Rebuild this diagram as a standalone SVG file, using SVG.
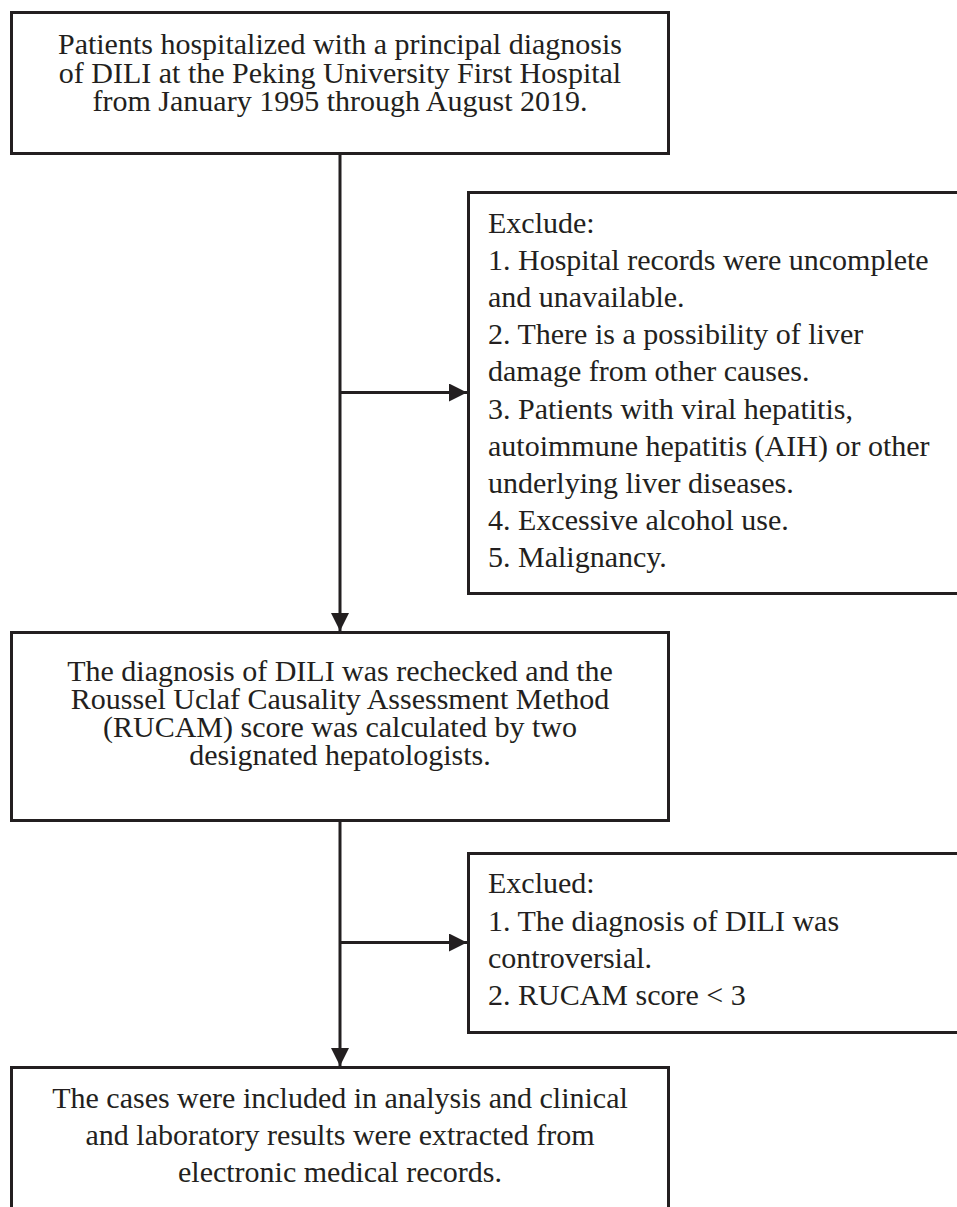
<svg xmlns="http://www.w3.org/2000/svg" width="957" height="1207" viewBox="0 0 957 1207">
<style>
.box{fill:#fff;stroke:#231f20;stroke-width:3}
.t{font-family:"Liberation Serif","Times New Roman",serif;font-size:30px;fill:#231f20}
.c{text-anchor:middle}
.conn{stroke:#231f20;stroke-width:3;fill:none}
</style>
<defs>
<marker id="ah" viewBox="0 0 18 18" refX="18" refY="9" markerWidth="18" markerHeight="18" markerUnits="userSpaceOnUse" orient="auto">
<path d="M0,0 L18,9 L0,18 Z" fill="#231f20"/>
</marker>
</defs>
<rect width="957" height="1207" fill="#fff"/>
<g id="connectors">
<line class="conn" x1="340" y1="153" x2="340" y2="631" marker-end="url(#ah)"/>
<line class="conn" x1="340" y1="392.5" x2="467" y2="392.5" marker-end="url(#ah)"/>
<line class="conn" x1="340" y1="820" x2="340" y2="1066" marker-end="url(#ah)"/>
<line class="conn" x1="340" y1="942.5" x2="467" y2="942.5" marker-end="url(#ah)"/>
</g>
<g id="node1">
<rect class="box" x="11.5" y="12.5" width="657" height="141"/>
<text class="t c" x="340" y="54">Patients hospitalized with a principal diagnosis</text>
<text class="t c" x="340" y="83">of DILI at the Peking University First Hospital</text>
<text class="t c" x="340" y="111">from January 1995 through August 2019.</text>
</g>
<g id="exclude1">
<rect class="box" x="468.5" y="192.5" width="500" height="401"/>
<text class="t" x="488" y="233">Exclude:</text>
<text class="t" x="488" y="270">1. Hospital records were uncomplete</text>
<text class="t" x="488" y="307">and unavailable.</text>
<text class="t" x="488" y="344">2. There is a possibility of liver</text>
<text class="t" x="488" y="381">damage from other causes.</text>
<text class="t" x="488" y="419">3. Patients with viral hepatitis,</text>
<text class="t" x="488" y="456">autoimmune hepatitis (AIH) or other</text>
<text class="t" x="488" y="493">underlying liver diseases.</text>
<text class="t" x="488" y="530">4. Excessive alcohol use.</text>
<text class="t" x="488" y="567">5. Malignancy.</text>
</g>
<g id="node2">
<rect class="box" x="11.5" y="632.5" width="657" height="188"/>
<text class="t c" x="340" y="681">The diagnosis of DILI was rechecked and the</text>
<text class="t c" x="340" y="709">Roussel Uclaf Causality Assessment Method</text>
<text class="t c" x="340" y="737">(RUCAM) score was calculated by two</text>
<text class="t c" x="340" y="765">designated hepatologists.</text>
</g>
<g id="exclude2">
<rect class="box" x="468.5" y="853.5" width="500" height="179"/>
<text class="t" x="488" y="893">Exclued:</text>
<text class="t" x="488" y="931">1. The diagnosis of DILI was</text>
<text class="t" x="488" y="968">controversial.</text>
<text class="t" x="488" y="1005">2. RUCAM score &lt; 3</text>
</g>
<g id="node3">
<rect class="box" x="11.5" y="1067.5" width="657" height="180"/>
<text class="t c" x="340" y="1108">The cases were included in analysis and clinical</text>
<text class="t c" x="340" y="1145">and laboratory results were extracted from</text>
<text class="t c" x="340" y="1182">electronic medical records.</text>
</g>
</svg>
